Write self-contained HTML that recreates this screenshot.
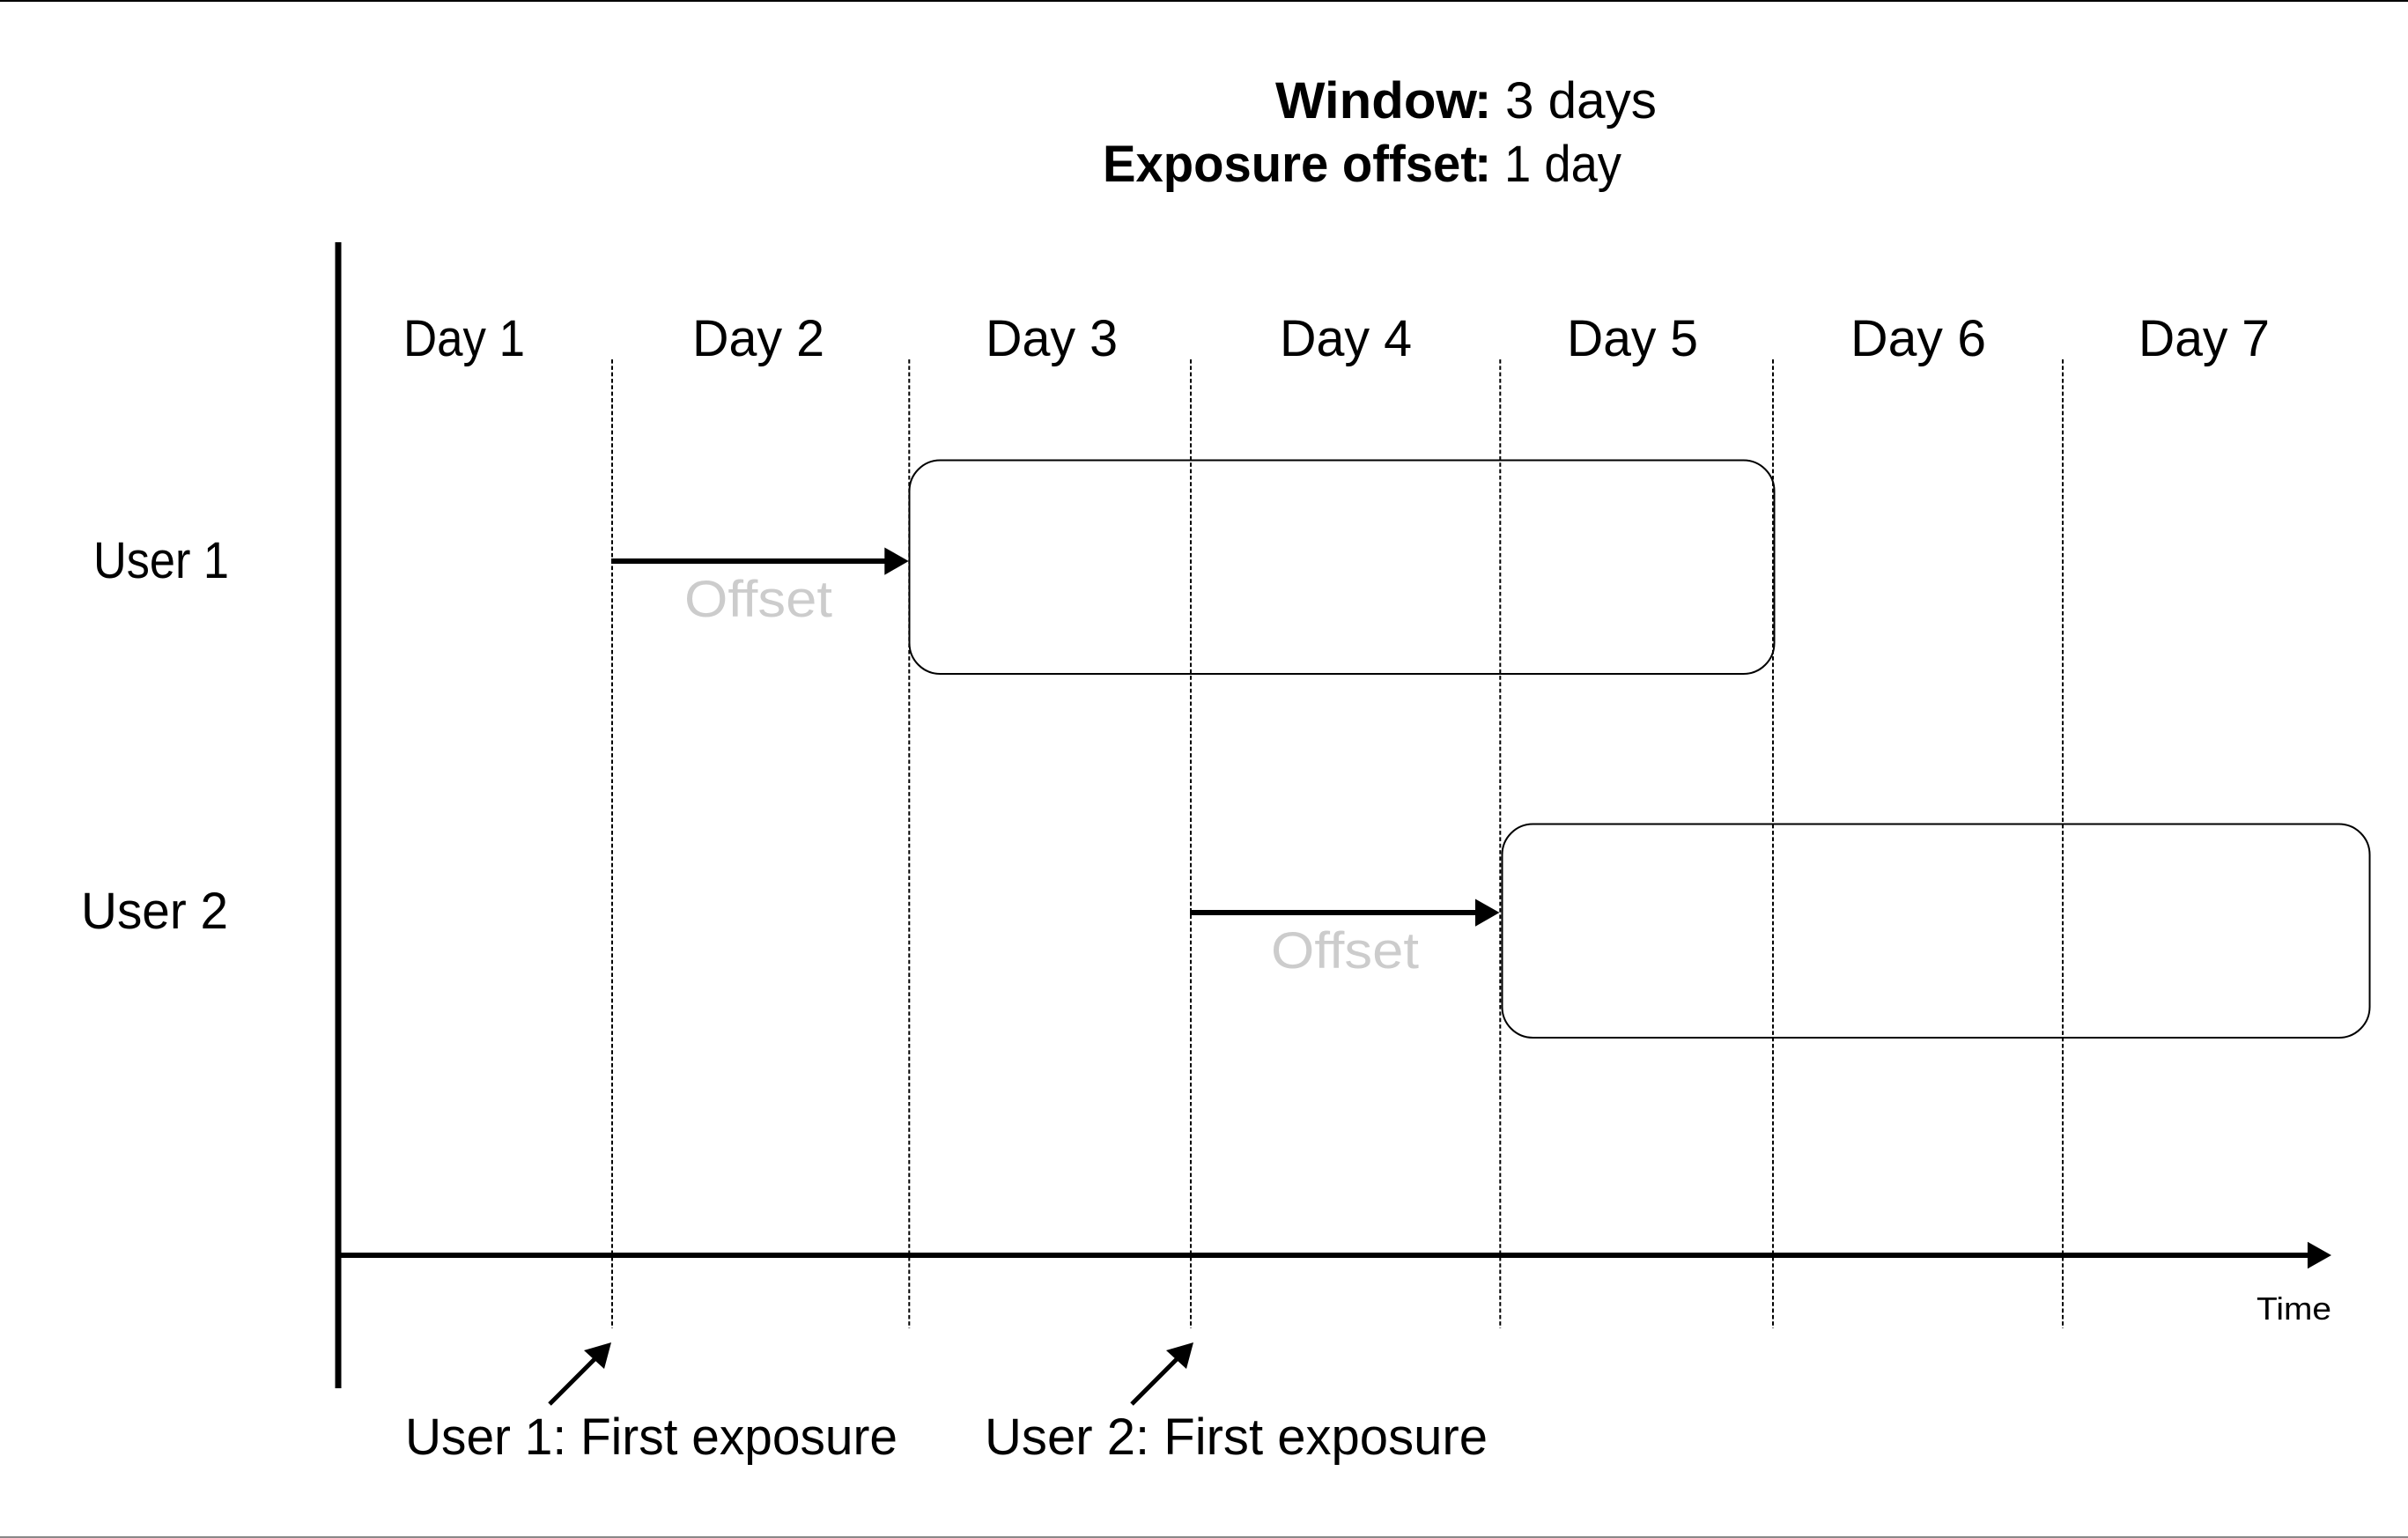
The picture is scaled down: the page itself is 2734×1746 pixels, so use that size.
<!DOCTYPE html>
<html>
<head>
<meta charset="utf-8">
<style>
html,body{margin:0;padding:0;background:#fff;width:2734px;height:1746px;overflow:hidden}
svg{display:block}
text{font-family:"Liberation Sans",sans-serif;fill:#000;font-size:58px}
</style>
</head>
<body>
<svg width="2734" height="1746" viewBox="0 0 2734 1746" xmlns="http://www.w3.org/2000/svg">
<rect x="0" y="0" width="2734" height="1746" fill="#fff"/>
<rect x="0" y="0" width="2734" height="2" fill="#000"/>
<rect x="0" y="1744" width="2734" height="2" fill="#888"/>

<g stroke="#000" stroke-width="2" stroke-dasharray="4.6 2.73" fill="none">
<line x1="695" y1="408" x2="695" y2="1508"/>
<line x1="1032.3" y1="408" x2="1032.3" y2="1508"/>
<line x1="1352" y1="408" x2="1352" y2="1508"/>
<line x1="1703.3" y1="408" x2="1703.3" y2="1508"/>
<line x1="2013" y1="408" x2="2013" y2="1508"/>
<line x1="2342" y1="408" x2="2342" y2="1508"/>
</g>

<rect x="1032.5" y="522.5" width="982" height="242.5" rx="35" ry="35" fill="none" stroke="#000" stroke-width="2"/>
<rect x="1705.5" y="935.5" width="985" height="242.5" rx="35" ry="35" fill="none" stroke="#000" stroke-width="2"/>

<rect x="380.5" y="275" width="7" height="1301" fill="#000"/>
<line x1="384" y1="1425" x2="2622" y2="1425" stroke="#000" stroke-width="6"/>
<polygon points="2620,1409.7 2647,1425 2620,1440.3" fill="#000"/>

<line x1="694" y1="637" x2="1006" y2="637" stroke="#000" stroke-width="6"/>
<polygon points="1004.3,621.5 1031.7,637 1004.3,652.7" fill="#000"/>
<line x1="1351" y1="1036" x2="1677" y2="1036" stroke="#000" stroke-width="6"/>
<polygon points="1675,1020.5 1702.5,1036 1675,1051.7" fill="#000"/>

<line x1="624" y1="1594" x2="676" y2="1542" stroke="#000" stroke-width="5"/>
<polygon points="694,1524 663,1533 686,1554" fill="#000"/>
<line x1="1285" y1="1594" x2="1337" y2="1542" stroke="#000" stroke-width="5"/>
<polygon points="1355,1524 1324,1533 1347,1554" fill="#000"/>

<text x="1448" y="134" textLength="229" lengthAdjust="spacingAndGlyphs" style="font-weight:700">Window</text>
<text x="1674" y="134" style="font-weight:700">:</text>
<text x="1709" y="134" textLength="172" lengthAdjust="spacingAndGlyphs">3 days</text>
<text x="1252" y="206" textLength="425" lengthAdjust="spacingAndGlyphs" style="font-weight:700">Exposure offset</text>
<text x="1674" y="206" style="font-weight:700">:</text>
<text x="1708" y="206" textLength="133" lengthAdjust="spacingAndGlyphs">1 day</text>

<text x="458" y="404" textLength="138" lengthAdjust="spacingAndGlyphs">Day 1</text>
<text x="786" y="404" textLength="150" lengthAdjust="spacingAndGlyphs">Day 2</text>
<text x="1119" y="404" textLength="150" lengthAdjust="spacingAndGlyphs">Day 3</text>
<text x="1453" y="404" textLength="150" lengthAdjust="spacingAndGlyphs">Day 4</text>
<text x="1779" y="404" textLength="149" lengthAdjust="spacingAndGlyphs">Day 5</text>
<text x="2101" y="404" textLength="154" lengthAdjust="spacingAndGlyphs">Day 6</text>
<text x="2428" y="404" textLength="149" lengthAdjust="spacingAndGlyphs">Day 7</text>

<text x="106" y="656" textLength="154" lengthAdjust="spacingAndGlyphs">User 1</text>
<text x="92" y="1054" textLength="167" lengthAdjust="spacingAndGlyphs">User 2</text>

<text x="777" y="700" textLength="168" lengthAdjust="spacingAndGlyphs" style="fill:#ccc">Offset</text>
<text x="1443" y="1099" textLength="168" lengthAdjust="spacingAndGlyphs" style="fill:#ccc">Offset</text>

<text x="2562" y="1498" textLength="85" lengthAdjust="spacingAndGlyphs" style="font-size:36px">Time</text>

<text x="460" y="1651" textLength="559" lengthAdjust="spacingAndGlyphs">User 1: First exposure</text>
<text x="1118" y="1651" textLength="571" lengthAdjust="spacingAndGlyphs">User 2: First exposure</text>
</svg>
</body>
</html>
